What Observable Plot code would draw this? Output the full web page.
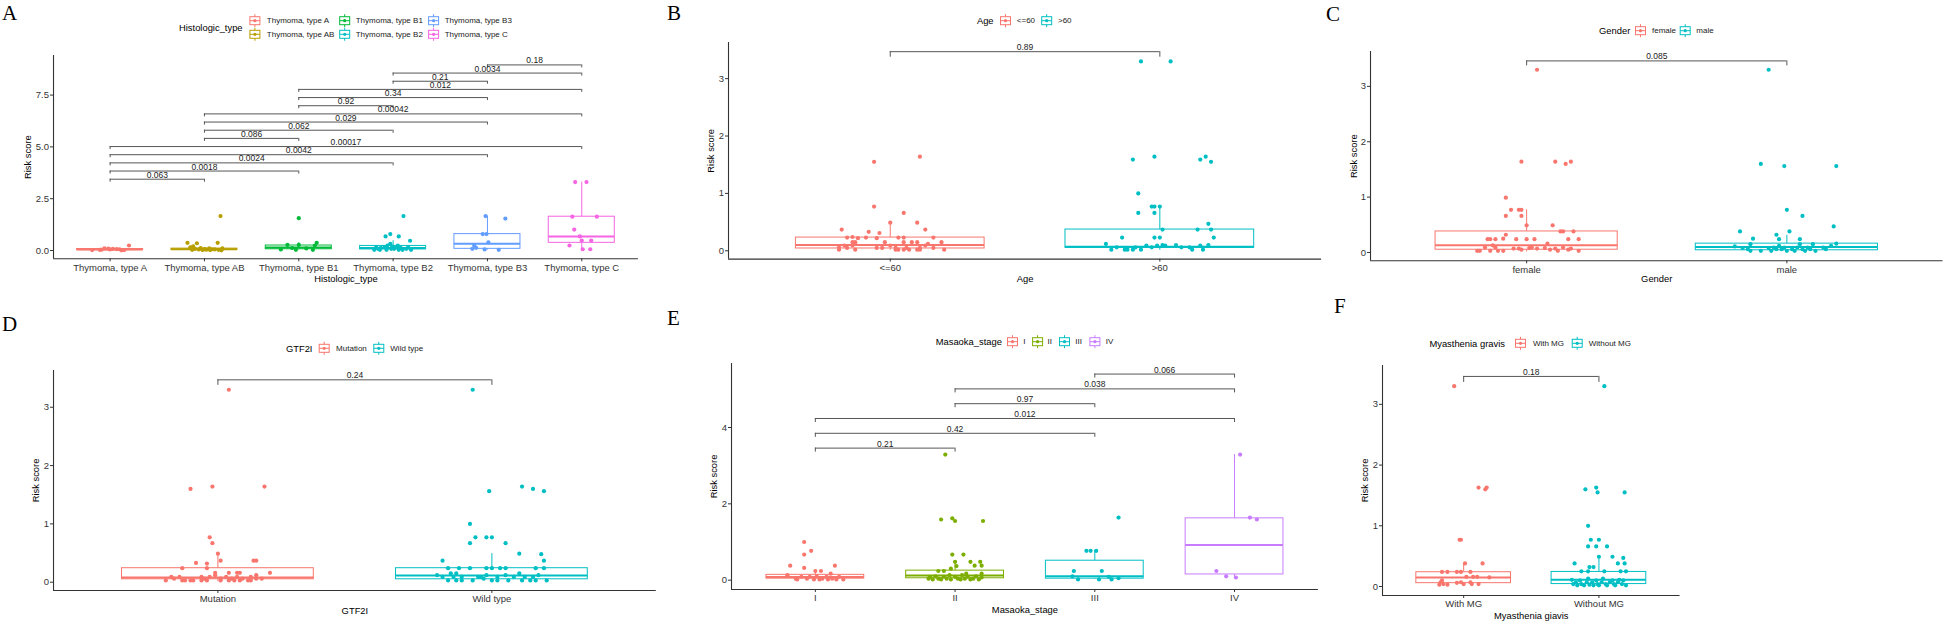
<!DOCTYPE html>
<html><head><meta charset="utf-8">
<script src="https://cdn.jsdelivr.net/npm/d3@7"></script>
<script src="https://cdn.jsdelivr.net/npm/@observablehq/plot@0.6"></script>
<style>
body{margin:0;background:#fff;}
#root{position:relative;width:1944px;height:624px;overflow:hidden;background:#fff;font-family:"Liberation Sans",Arial,sans-serif;}
#root svg{position:absolute;}
</style></head><body><div id="root"></div>
<script>
// ---------------- DATA ----------------
// Panel A: Histologic type
const histCats = ["Thymoma, type A","Thymoma, type AB","Thymoma, type B1","Thymoma, type B2","Thymoma, type B3","Thymoma, type C"];
const histScores = [
 [0.24,0.10,0.08,0.07,0.06,0.05,0.04,0.03,0.02,0.02,0.09,0.01],
 [1.66,0.37,0.35,0.37,0.20,0.15,0.12,0.10,0.08,0.07,0.06,0.05,0.05,0.04,0.03,0.03,0.02,0.02,0.01,0.10],
 [1.56,0.27,0.27,0.37,0.24,0.05,0.03,0.03,0.12,0.10],
 [1.66,0.68,0.79,0.68,0.47,0.03,0.08,0.13,0.16,0.24,0.32,0.19,0.08,0.16,0.03,0.13,0.03,0.08,0.03,0.08,0.03,0.03,0.24,0.16,0.16],
 [1.66,1.54,0.79,0.79,0.39,0.24,0.08,0.05,0.03,0.13],
 [3.30,3.30,1.63,1.63,1.01,0.68,0.48,0.48,0.24,0.06,0.06]
];
const histJitter = [
 [0.20,-0.06,0.03,0.07,0.10,0.00,-0.09,-0.11,-0.19,0.15,-0.02,0.12],
 [0.17,-0.18,-0.08,0.14,-0.12,-0.15,-0.04,0.05,-0.10,0.00,0.08,-0.06,0.11,0.02,-0.13,0.15,-0.02,0.06,0.18,0.19],
 [0.00,-0.12,0.00,0.19,0.17,-0.19,-0.03,0.15,-0.07,0.08],
 [0.11,-0.08,-0.03,0.06,0.18,-0.20,-0.16,-0.13,-0.09,-0.06,-0.03,-0.01,0.01,0.03,0.06,0.08,0.10,0.14,0.19,-0.02,-0.07,-0.14,0.05,0.16,-0.18],
 [-0.02,0.19,-0.05,-0.01,0.01,-0.14,-0.16,-0.03,0.12,-0.12],
 [-0.07,0.05,-0.10,0.16,-0.08,-0.02,0.00,0.10,-0.13,0.01,0.09]
];
const histBox = {lo:[0.00,0.01,0.03,0.01,0.02,0.05], q1:[0.02,0.03,0.06,0.05,0.08,0.37], med:[0.05,0.06,0.14,0.12,0.32,0.68], q3:[0.07,0.09,0.24,0.22,0.79,1.63], hi:[0.10,0.15,0.37,0.47,1.66,3.30]};
const histPairs = [[1,2],[1,3],[1,4],[1,5],[1,6],[2,3],[2,4],[2,5],[2,6],[3,4],[3,5],[3,6],[4,5],[4,6],[5,6]];
const histP = ["0.063","0.0018","0.0024","0.0042","0.00017","0.086","0.062","0.029","0.00042","0.92","0.34","0.012","0.21","0.0034","0.18"];

// Panel B: Age
const ageCats = ["<=60", ">60"];
const ageScores = [
 [1.55,1.64,0.77,0.66,0.49,0.49,0.37,0.37,0.33,0.31,0.23,0.24,0.22,0.23,0.22,0.23,0.23,0.23,0.15,0.15,0.15,0.15,0.15,0.15,0.15,0.09,0.09,0.12,0.09,0.09,0.12,0.06,0.05,0.05,0.05,0.05,0.05,0.05,0.05,0.02,0.02,0.02,0.02,0.02,0.02,0.02,0.02,0.02],
 [3.30,3.30,1.59,1.64,1.59,1.64,1.55,1.00,0.77,0.77,0.77,0.66,0.66,0.47,0.37,0.37,0.37,0.23,0.23,0.23,0.23,0.12,0.02,0.06,0.02,0.02,0.02,0.06,0.02,0.09,0.06,0.09,0.10,0.09,0.10,0.06,0.06,0.02,0.09,0.02,0.10]
];
const ageJitter = [
 [-0.06,0.11,-0.06,0.05,0.00,0.10,-0.18,0.13,-0.08,-0.04,-0.16,-0.14,-0.12,-0.09,-0.05,0.03,0.05,0.16,-0.14,-0.13,-0.02,0.05,0.08,0.10,0.19,-0.17,-0.14,-0.13,0.00,0.13,0.14,-0.19,-0.16,-0.05,-0.03,0.02,0.06,0.11,0.16,-0.19,-0.13,0.02,0.03,0.05,0.07,0.10,0.11,0.20],
 [-0.07,0.04,-0.10,-0.02,0.15,0.17,0.19,-0.08,-0.03,-0.02,0.00,-0.08,-0.02,0.18,0.01,0.14,0.19,-0.14,-0.02,0.00,0.20,-0.20,-0.18,-0.16,-0.13,-0.12,-0.10,-0.09,-0.07,-0.05,-0.03,-0.01,0.01,0.02,0.06,0.08,0.11,0.12,0.15,0.16,0.18]
];
const ageBox = {lo:[0.01,0.01], q1:[0.04,0.05], med:[0.10,0.07], q3:[0.23,0.37], hi:[0.49,0.77]};
const agePairs = [[1,2]];
const ageP = ["0.89"];

// Panel C: Gender
const genderCats = ["female", "male"];
const genderScores = [
 [3.30,1.64,1.64,1.60,1.64,0.99,0.77,0.77,0.77,0.66,0.66,0.49,0.49,0.38,0.38,0.38,0.32,0.24,0.24,0.24,0.25,0.24,0.24,0.24,0.24,0.24,0.16,0.03,0.03,0.09,0.03,0.09,0.03,0.03,0.07,0.07,0.05,0.08,0.09,0.07,0.08,0.05,0.07,0.03,0.09,0.05,0.07,0.03,0.13],
 [3.30,1.60,1.56,1.56,0.77,0.66,0.47,0.38,0.38,0.32,0.25,0.24,0.24,0.11,0.08,0.06,0.15,0.03,0.03,0.08,0.03,0.09,0.06,0.12,0.06,0.09,0.03,0.06,0.03,0.09,0.15,0.06,0.03,0.09,0.06,0.15,0.03,0.09,0.06,0.12,0.16]
];
const genderJitter = [
 [0.04,-0.02,0.11,0.15,0.17,-0.08,-0.06,-0.03,-0.02,-0.08,-0.02,0.00,0.10,0.13,0.14,0.18,-0.08,-0.15,-0.14,-0.12,-0.09,-0.04,0.00,0.03,0.16,0.20,0.08,-0.19,-0.18,-0.16,-0.14,-0.12,-0.11,-0.09,-0.05,-0.03,-0.02,0.01,0.02,0.04,0.07,0.09,0.11,0.12,0.14,0.16,0.17,0.20,-0.13],
 [-0.07,-0.10,-0.01,0.19,0.00,0.06,0.18,-0.18,0.01,-0.04,-0.13,-0.03,0.05,-0.20,-0.17,-0.15,-0.14,-0.14,-0.10,-0.07,-0.06,-0.05,-0.04,-0.03,-0.02,-0.01,0.00,0.02,0.03,0.04,0.05,0.06,0.07,0.08,0.09,0.10,0.11,0.14,0.15,0.17,0.19]
];
const genderBox = {lo:[0.01,0.01], q1:[0.05,0.04], med:[0.13,0.10], q3:[0.38,0.16], hi:[0.77,0.31]};
const genderPairs = [[1,2]];
const genderP = ["0.085"];

// Panel D: GTF2I
const gtfCats = ["Mutation", "Wild type"];
const gtfScores = [
 [3.30,1.60,1.64,1.64,0.77,0.67,0.49,0.37,0.37,0.37,0.33,0.32,0.24,0.24,0.16,0.16,0.16,0.16,0.16,0.03,0.09,0.06,0.09,0.03,0.03,0.03,0.03,0.03,0.09,0.06,0.03,0.09,0.12,0.06,0.03,0.09,0.03,0.06,0.03,0.09,0.03,0.06,0.03,0.09,0.03,0.06,0.12,0.06],
 [3.30,1.56,1.64,1.60,1.56,1.00,0.77,0.77,0.77,0.67,0.67,0.49,0.48,0.37,0.37,0.24,0.24,0.24,0.24,0.24,0.24,0.24,0.24,0.24,0.12,0.09,0.03,0.15,0.09,0.03,0.15,0.09,0.03,0.03,0.09,0.09,0.06,0.12,0.03,0.03,0.09,0.12,0.03,0.09,0.15,0.03,0.09,0.03,0.09,0.03,0.12,0.03]
];
const gtfJitter = [
 [0.04,-0.10,-0.02,0.17,-0.03,-0.02,0.00,0.01,0.13,0.14,-0.08,-0.04,-0.13,-0.04,-0.01,0.04,0.07,0.08,0.19,-0.19,-0.17,-0.16,-0.14,-0.13,-0.12,-0.10,-0.09,-0.06,-0.06,-0.05,-0.04,-0.03,-0.01,0.01,0.01,0.03,0.04,0.05,0.06,0.07,0.08,0.09,0.11,0.12,0.12,0.14,0.14,0.16],
 [-0.07,-0.01,0.11,0.15,0.19,-0.08,-0.06,-0.02,0.00,-0.08,0.05,0.10,0.18,-0.18,0.19,-0.16,-0.12,-0.08,-0.02,0.00,0.03,0.05,0.16,0.19,-0.20,-0.18,-0.16,-0.15,-0.14,-0.13,-0.13,-0.11,-0.11,-0.07,-0.05,-0.04,-0.03,-0.02,0.00,0.02,0.02,0.05,0.06,0.08,0.10,0.11,0.12,0.14,0.15,0.16,0.17,0.20]
];
const gtfBox = {lo:[0.01,0.01], q1:[0.05,0.05], med:[0.08,0.115], q3:[0.24,0.24], hi:[0.49,0.49]};
const gtfPairs = [[1,2]];
const gtfP = ["0.24"];

// Panel E: Masaoka stage
const stageCats = ["I","II","III","IV"];
const stageScores = [
 [1.00,0.77,0.67,0.38,0.38,0.32,0.24,0.24,0.17,0.13,0.04,0.02,0.09,0.04,0.09,0.02,0.10,0.02,0.04,0.09,0.02,0.04,0.02,0.09,0.02],
 [3.29,1.59,1.62,1.55,1.55,0.67,0.67,0.48,0.48,0.48,0.37,0.38,0.38,0.24,0.24,0.30,0.17,0.04,0.09,0.02,0.10,0.04,0.02,0.09,0.04,0.13,0.02,0.09,0.04,0.02,0.13,0.04,0.09,0.02,0.04,0.10,0.02,0.07,0.17],
 [1.64,0.77,0.77,0.77,0.24,0.24,0.10,0.02,0.02,0.09,0.02,0.05],
 [3.29,1.64,1.59,0.24,0.10,0.07]
];
const stageJitter = [
 [-0.08,-0.03,-0.08,-0.18,0.14,-0.08,0.00,0.04,0.11,-0.20,-0.14,-0.13,-0.10,-0.06,-0.04,-0.01,0.01,0.03,0.05,0.08,0.09,0.12,0.15,0.17,0.20],
 [-0.07,-0.10,-0.02,0.00,0.20,-0.02,0.06,0.00,0.11,0.18,0.01,0.14,0.19,-0.08,-0.12,-0.03,0.08,-0.19,-0.18,-0.16,-0.14,-0.12,-0.10,-0.08,-0.06,-0.04,-0.03,0.00,0.02,0.04,0.05,0.07,0.09,0.11,0.13,0.15,0.17,0.19,0.19],
 [0.17,-0.06,-0.03,0.01,-0.15,0.05,-0.16,-0.12,0.03,0.10,0.12,0.17],
 [0.04,0.11,0.16,-0.13,-0.06,0.01]
];
const stageBox = {lo:[0.01,0.01,0.02,0.07], q1:[0.04,0.05,0.04,0.15], med:[0.08,0.12,0.10,0.92], q3:[0.14,0.25,0.51,1.62], hi:[0.24,0.50,0.77,3.29]};
const stagePairs = [[1,2],[1,3],[1,4],[2,3],[2,4],[3,4]];
const stageP = ["0.21","0.42","0.012","0.97","0.038","0.066"];

// Panel F: Myasthenia gravis
const mgCats = ["With MG", "Without MG"];
const mgScores = [
 [3.30,1.63,1.63,1.60,0.77,0.77,0.38,0.38,0.24,0.24,0.24,0.24,0.24,0.16,0.16,0.16,0.15,0.03,0.10,0.04,0.03,0.06,0.07,0.04,0.07,0.04,0.04,0.07],
 [3.30,1.60,1.63,1.55,1.55,1.00,0.77,0.77,0.66,0.66,0.66,0.49,0.49,0.47,0.38,0.38,0.38,0.32,0.32,0.25,0.25,0.25,0.25,0.25,0.11,0.04,0.07,0.02,0.10,0.04,0.02,0.07,0.13,0.03,0.07,0.02,0.10,0.04,0.02,0.07,0.13,0.04,0.02,0.07,0.10,0.04,0.02,0.07,0.11,0.04,0.10,0.02]
];
const mgJitter = [
 [-0.07,0.11,0.17,0.16,-0.03,-0.02,0.01,0.14,-0.16,-0.12,-0.05,-0.02,0.05,0.02,0.07,0.10,0.19,-0.18,-0.16,-0.15,-0.12,-0.05,-0.02,0.00,0.05,0.06,0.11,-0.17],
 [0.04,-0.10,-0.02,-0.01,0.19,-0.08,-0.06,0.00,-0.08,-0.02,0.06,0.00,0.10,0.18,-0.18,0.14,0.19,-0.07,-0.04,-0.13,-0.08,0.04,0.16,0.20,-0.20,-0.19,-0.17,-0.16,-0.14,-0.13,-0.11,-0.09,-0.08,-0.07,-0.05,-0.04,-0.02,-0.01,0.00,0.02,0.03,0.05,0.06,0.08,0.10,0.11,0.12,0.14,0.15,0.17,0.18,0.20]
];
const mgBox = {lo:[0.02,0.01], q1:[0.055,0.04], med:[0.15,0.11], q3:[0.235,0.24], hi:[0.38,0.51]};
const mgPairs = [[1,2]];
const mgP = ["0.18"];

const yTicksA = [0, 2.5, 5, 7.5];
const yTicks3 = [0, 1, 2, 3];
const yTicksE = [0, 2, 4];

// ---------------- STYLE / LAYOUT ----------------
const hue2 = ["#F8766D", "#00BFC4"];
const hue4 = ["#F8766D", "#7CAE00", "#00BFC4", "#C77CFF"];
const hue6 = ["#F8766D", "#B79F00", "#00BA38", "#00BFC4", "#619CFF", "#F564E3"];
const FONT = "'Liberation Sans', Arial, Helvetica, sans-serif";

const panels = [
 {letter:"A", lx:2, ly:20, cats:histCats, scores:histScores, jitter:histJitter, box:histBox, pairs:histPairs, pvals:histP, colors:hue6,
  L:52.6, R:637.5, T:55, B:258.3, yDomain:[-0.40, 9.41], yTicks:yTicksA, fmt:d3.format(".1f"), yTitleDx:-25.7, xTitleDy:20,
  br:{base:3.44, step:0.394, tip:3}, xTitle:"Histologic_type", legendTitle:"Histologic_type",
  leg:{titleX:179, titleY:27.7, keyX:[254.9,254.9,344.7,344.7,433.6,433.6], textX:[266.8,266.8,355.7,355.7,444.7,444.7], y:[20.7,34.3,20.7,34.3,20.7,34.3]}},
 {letter:"B", lx:667, ly:20, cats:ageCats, scores:ageScores, jitter:ageJitter, box:ageBox, pairs:agePairs, pvals:ageP, colors:hue2,
  L:727.5, R:1320.6, T:41.7, B:258.3, yDomain:[-0.145, 3.63], yTicks:yTicks3, fmt:d3.format("d"), yTitleDx:-17.3, xTitleDy:20,
  br:{base:3.47, step:0, tip:5.5}, xTitle:"Age", legendTitle:"Age",
  leg:{titleX:976.9, titleY:20.7, keyX:[1005.5,1046.7], textX:[1016.8,1058], y:[20.7,20.7]}},
 {letter:"C", lx:1326, ly:21, cats:genderCats, scores:genderScores, jitter:genderJitter, box:genderBox, pairs:genderPairs, pvals:genderP, colors:hue2,
  L:1369.8, R:1942.3, T:50.7, B:260, yDomain:[-0.15, 3.63], yTicks:yTicks3, fmt:d3.format("d"), yTitleDx:-16.6, xTitleDy:18.5,
  br:{base:3.46, step:0, tip:5}, xTitle:"Gender", legendTitle:"Gender",
  leg:{titleX:1599, titleY:30.7, keyX:[1640.5,1685.2], textX:[1652,1696.3], y:[30.7,30.7]}},
 {letter:"D", lx:2, ly:331, cats:gtfCats, scores:gtfScores, jitter:gtfJitter, box:gtfBox, pairs:gtfPairs, pvals:gtfP, colors:hue2,
  L:53.2, R:656, T:370, B:590, yDomain:[-0.142, 3.63], yTicks:yTicks3, fmt:d3.format("d"), yTitleDx:-17.6, xTitleDy:20,
  br:{base:3.47, step:0, tip:5.5}, xTitle:"GTF2I", legendTitle:"GTF2I",
  leg:{titleX:285.9, titleY:348.3, keyX:[324.2,378.8], textX:[336.1,390.3], y:[348.3,348.3]}},
 {letter:"E", lx:667, ly:325, cats:stageCats, scores:stageScores, jitter:stageJitter, box:stageBox, pairs:stagePairs, pvals:stageP, colors:hue4,
  L:730.6, R:1317.5, T:363.3, B:589.3, yDomain:[-0.244, 5.677], yTicks:yTicksE, fmt:d3.format("d"), yTitleDx:-17.4, xTitleDy:20,
  br:{base:3.46, step:0.388, tip:4}, xTitle:"Masaoka_stage", legendTitle:"Masaoka_stage",
  leg:{titleX:935.7, titleY:341.7, keyX:[1012.5,1037.6,1064.5,1094.9], textX:[1023.3,1047.6,1075.3,1105.7], y:[341.7,341.7,341.7,341.7]}},
 {letter:"F", lx:1334, ly:313, cats:mgCats, scores:mgScores, jitter:mgJitter, box:mgBox, pairs:mgPairs, pvals:mgP, colors:hue2,
  L:1382.2, R:1679.8, T:365, B:595, yDomain:[-0.148, 3.64], yTicks:yTicks3, fmt:d3.format("d"), yTitleDx:-17.7, xTitleDy:20,
  br:{base:3.46, step:0, tip:6}, xTitle:"Myasthenia giavis", legendTitle:"Myasthenia gravis",
  leg:{titleX:1429.4, titleY:343.3, keyX:[1520.5,1577.2], textX:[1532.9,1588.7], y:[343.3,343.3]}}
];

const root = document.getElementById("root");
const ML = 48, MR = 12, MT = 14, MB = 34;

for (const p of panels) {
  const n = p.cats.length;
  const W = p.R - p.L + ML + MR;
  const H = p.B - p.T + MT + MB;
  const ppu = (p.B - p.T) / (p.yDomain[1] - p.yDomain[0]);
  const tipU = p.br.tip / ppu;
  const pts = [];
  p.scores.forEach((vals, gi) => {
    const jit = p.jitter[gi];
    vals.forEach((v, k) => pts.push({g: gi + 1, v, j: jit[k] ?? 0, c: p.colors[gi]}));
  });
  const boxes = p.cats.map((c, gi) => ({g: gi + 1, c: p.colors[gi],
    lo: p.box.lo[gi], q1: p.box.q1[gi], med: p.box.med[gi], q3: p.box.q3[gi], hi: p.box.hi[gi]}));
  const brk = p.pairs.map(([a, b], i) => ({a, b, y: p.br.base + i * p.br.step, label: p.pvals[i]}));
  const bw = 0.35;
  const svg = Plot.plot({
    width: W, height: H,
    marginLeft: ML, marginRight: MR, marginTop: MT, marginBottom: MB,
    x: {type: "linear", domain: [0.4, n + 0.6]},
    y: {type: "linear", domain: p.yDomain},
    color: {type: "identity"},
    style: {fontFamily: FONT, fontSize: "9.5px", color: "#333", background: "transparent", overflow: "visible"},
    marks: [
      Plot.ruleY(brk, {y: "y", x1: "a", x2: "b", stroke: "#555", strokeWidth: 1}),
      Plot.ruleX(brk, {x: "a", y1: "y", y2: d => d.y - tipU, stroke: "#555", strokeWidth: 1}),
      Plot.ruleX(brk, {x: "b", y1: "y", y2: d => d.y - tipU, stroke: "#555", strokeWidth: 1}),
      Plot.text(brk, {x: d => (d.a + d.b) / 2, y: "y", text: "label", lineAnchor: "bottom", dy: -1.5, fontSize: 8.5, fill: "#222"}),
      Plot.ruleX(boxes, {x: "g", y1: "q3", y2: "hi", stroke: "c", strokeWidth: 1}),
      Plot.ruleX(boxes, {x: "g", y1: "lo", y2: "q1", stroke: "c", strokeWidth: 1}),
      Plot.rect(boxes, {x1: d => d.g - bw, x2: d => d.g + bw, y1: "q1", y2: "q3", fill: "white", stroke: "c", strokeWidth: 1}),
      Plot.ruleY(boxes, {y: "med", x1: d => d.g - bw, x2: d => d.g + bw, stroke: "c", strokeWidth: 2}),
      Plot.dot(pts, {x: d => d.g + d.j, y: "v", r: 2.1, fill: "c", stroke: null}),
      Plot.ruleX([0.4], {stroke: "#333", strokeWidth: 1.1}),
      Plot.ruleY([p.yDomain[0]], {stroke: "#333", strokeWidth: 1.1}),
      Plot.axisY({ticks: p.yTicks, tickFormat: p.fmt, tickSize: 3, tickPadding: 1.5, label: null}),
      Plot.axisX({ticks: d3.range(1, n + 1), tickFormat: i => p.cats[i - 1], tickSize: 3, tickPadding: 2, label: null}),
      Plot.text([p.xTitle], {frameAnchor: "bottom", dy: p.xTitleDy, textAnchor: "middle", lineAnchor: "middle", fontSize: 9.4, fill: "#000"}),
      Plot.text(["Risk score"], {frameAnchor: "left", dx: p.yTitleDx, rotate: -90, textAnchor: "middle", lineAnchor: "middle", fontSize: 9.4, fill: "#000"})
    ]
  });
  svg.style.left = (p.L - ML) + "px";
  svg.style.top = (p.T - MT) + "px";
  root.appendChild(svg);
}

// overlay: panel letters and legends
const ov = d3.select(root).append("svg")
  .attr("width", 1944).attr("height", 624)
  .style("left", "0px").style("top", "0px").style("pointer-events", "none");
for (const p of panels) {
  ov.append("text").attr("x", p.lx).attr("y", p.ly)
    .attr("font-family", "'Liberation Serif', 'Times New Roman', serif").attr("font-size", 21).attr("fill", "#000")
    .text(p.letter);
  ov.append("text").attr("x", p.leg.titleX).attr("y", p.leg.titleY).attr("dominant-baseline", "central")
    .attr("font-family", FONT).attr("font-size", 9.4).attr("fill", "#000").text(p.legendTitle);
  p.cats.forEach((c, i) => {
    const cx = p.leg.keyX[i], cy = p.leg.y[i], col = p.colors[i];
    const g = ov.append("g");
    g.append("line").attr("x1", cx).attr("x2", cx).attr("y1", cy - 6.5).attr("y2", cy + 6.5).attr("stroke", col).attr("stroke-width", 1);
    g.append("rect").attr("x", cx - 5).attr("y", cy - 4).attr("width", 10).attr("height", 8).attr("fill", "white").attr("stroke", col).attr("stroke-width", 1);
    g.append("line").attr("x1", cx - 5).attr("x2", cx + 5).attr("y1", cy).attr("y2", cy).attr("stroke", col).attr("stroke-width", 1);
    g.append("circle").attr("cx", cx).attr("cy", cy).attr("r", 1.6).attr("fill", col);
    ov.append("text").attr("x", p.leg.textX[i]).attr("y", cy).attr("dominant-baseline", "central")
      .attr("font-family", FONT).attr("font-size", 8).attr("fill", "#222").text(c);
  });
}
</script></body></html>
